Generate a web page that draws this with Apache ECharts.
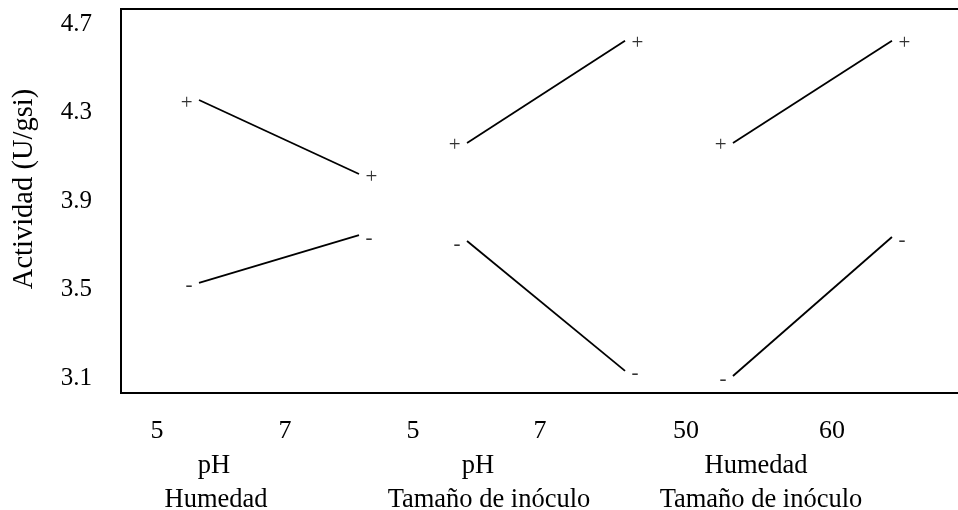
<!DOCTYPE html>
<html>
<head>
<meta charset="utf-8">
<script src="https://cdn.jsdelivr.net/npm/echarts@6/dist/echarts.min.js"></script>
<style>
  html, body { margin: 0; padding: 0; background: #fff; }
  #chart { width: 958px; height: 510px; }
</style>
</head>
<body>
<div id="chart"></div>
<script>
// Interaction plot: mean activity for each pair of factors
const yTicks = [3.1, 3.5, 3.9, 4.3, 4.7];
const factorPairs = [
  ['pH', 'Humedad'],
  ['pH', 'Tamaño de inóculo'],
  ['Humedad', 'Tamaño de inóculo']
];
const levels = [[5, 7], [5, 7], [50, 60]];
// second factor at its high level (+) and low level (-)
const highMeans = [[4.358, 4.023], [4.164, 4.626], [4.164, 4.626]];
const lowMeans = [[3.530, 3.747], [3.720, 3.132], [3.109, 3.738]];

// layout: horizontal extent of each panel's value axis
const lineAxisRange = [[4.025, 14.775], [0.620, 11.506], [11.51, 65.60]];
const tickAxisRange = [[4.4375, 17.875], [0.4016, 13.945], [11.30, 70.20]];
const factorNameX = [[214, 216], [478, 489], [756, 761]];

const FONT = '"Liberation Serif", "Times New Roman", serif';

const xAxes = [];
const series = [];

levels.forEach((lv, i) => {
  // hidden axis that places the lines
  xAxes.push({
    type: 'value', gridIndex: 0, position: 'bottom',
    min: lineAxisRange[i][0], max: lineAxisRange[i][1],
    show: false
  });
});
levels.forEach((lv, i) => {
  // axis carrying the level tick labels
  xAxes.push({
    type: 'value', gridIndex: 0, position: 'bottom',
    min: tickAxisRange[i][0], max: tickAxisRange[i][1],
    axisLine: { show: false }, axisTick: { show: false },
    splitLine: { show: false },
    axisLabel: {
      customValues: lv, margin: 25,
      fontFamily: FONT, fontSize: 26, color: '#000',
      formatter: v => String(v)
    }
  });
});

function endLabels(sign) {
  return [
    { show: true, position: 'left', distance: 6, formatter: sign, offset: [0, 3] },
    { show: true, position: 'right', distance: 6, formatter: sign, offset: [0, 3] }
  ];
}

function makeSeries(i, values, sign) {
  const labels = endLabels(sign);
  return {
    type: 'line', xAxisIndex: i, yAxisIndex: 0,
    data: values.map((v, k) => ({ value: [levels[i][k], v], label: labels[k] })),
    showSymbol: true, symbol: 'circle', symbolSize: 1,
    itemStyle: { color: 'rgba(0,0,0,0)' },
    lineStyle: { color: '#000', width: 1.8 },
    label: { fontFamily: FONT, fontSize: 21, color: '#333' },
    silent: true, animation: false
  };
}

levels.forEach((lv, i) => {
  series.push(makeSeries(i, highMeans[i], '+'));
  series.push(makeSeries(i, lowMeans[i], '-'));
});

const NAME_FONT = '26.5px ' + FONT;
const graphics = [];
factorPairs.forEach((pair, i) => {
  graphics.push({
    type: 'text', x: factorNameX[i][0], y: 466,
    style: { text: pair[0], font: NAME_FONT, fill: '#000', align: 'center', verticalAlign: 'middle' }
  });
  graphics.push({
    type: 'text', x: factorNameX[i][1], y: 500,
    style: { text: pair[1], font: NAME_FONT, fill: '#000', align: 'center', verticalAlign: 'middle' }
  });
});
graphics.push({
  type: 'text', x: 25, y: 189, rotation: Math.PI / 2,
  style: { text: 'Actividad (U/gsi)', font: '28.5px ' + FONT, fill: '#000', align: 'center', verticalAlign: 'middle' }
});

const chart = echarts.init(document.getElementById('chart'), null, { renderer: 'canvas' });
chart.setOption({
  backgroundColor: '#fff',
  animation: false,
  grid: {
    left: 121, top: 9, width: 860, height: 384,
    outerBoundsMode: 'none',
    show: true, borderColor: '#000', borderWidth: 2, backgroundColor: 'transparent'
  },
  xAxis: xAxes,
  yAxis: {
    type: 'value', min: 3.032, max: 4.770,
    axisLine: { show: false }, axisTick: { show: false }, splitLine: { show: false },
    axisLabel: {
      customValues: yTicks, margin: 29,
      fontFamily: FONT, fontSize: 25, color: '#000',
      formatter: v => v.toFixed(1)
    }
  },
  graphic: graphics,
  series: series
});
</script>
</body>
</html>
